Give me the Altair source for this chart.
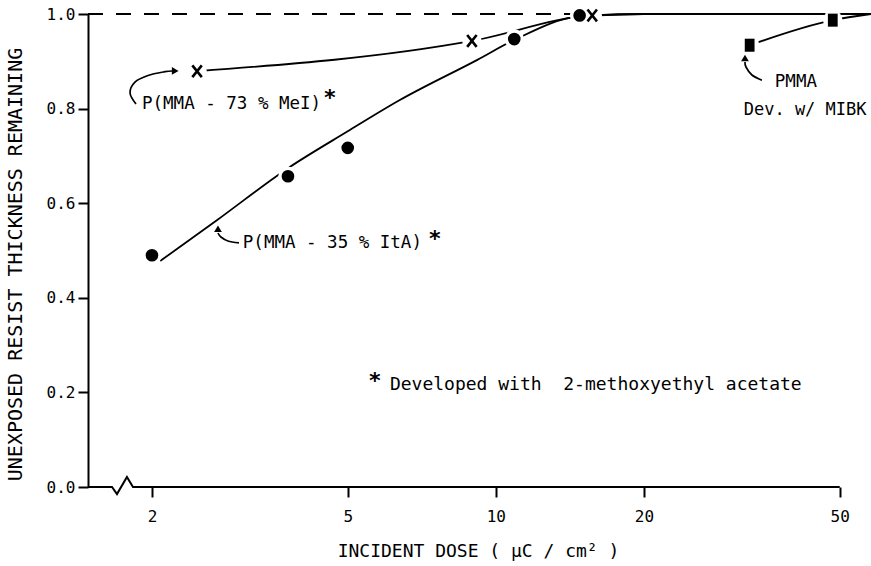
import altair as alt
import pandas as pd

FONT = "DejaVu Sans Mono"
X_MIN, X_MAX = 1.4826, 57.88

# ---- measured points -------------------------------------------------
ita_dose = [2.0, 3.78, 5.0, 10.9, 14.8]
ita_val = [0.49, 0.657, 0.717, 0.947, 0.997]
mei_dose = [2.47, 8.94, 15.7]
mei_val = [0.879, 0.943, 0.997]
pmma_dose = [32.8, 48.4]
pmma_val = [0.934, 0.987]

# ---- trend curves as drawn in the figure ------------------------------
ita_curve_dose = [2.08, 2.71, 3.78, 5.0, 6.38, 9.17, 10.9, 14.8, 20.0]
ita_curve_val = [0.478, 0.564, 0.674, 0.752, 0.818, 0.903, 0.945, 0.995, 1.0]
mei_curve_dose = [2.47, 8.94, 15.7, 20.0, X_MAX]
mei_curve_val = [0.879, 0.943, 0.997, 1.0, 1.0]
pmma_curve_dose = [32.8, 48.4, X_MAX]
pmma_curve_val = [0.934, 0.987, 1.0]

# ---- decorations -----------------------------------------------------
axis_dose = [X_MIN, 1.659, 1.698, 1.779, 1.830, 50.0]
axis_val = [0.0, 0.0, -0.015, 0.021, 0.0, 0.0]
ref_dose = [X_MIN]
ref_dose2 = [14.8]
ref_val = [1.0]

arrow_id = ["a1"] * 6 + ["a2"] * 4 + ["a3"] * 4
arrow_dose = [1.856, 1.805, 1.847, 1.963, 2.125, 2.20,
              3.005, 2.854, 2.762, 2.724,
              34.74, 33.15, 32.24, 32.09]
arrow_val = [0.8097, 0.833, 0.856, 0.870, 0.878, 0.8795,
             0.516, 0.520, 0.5285, 0.537,
             0.860, 0.871, 0.888, 0.8985]
head_dose = [2.23, 2.724, 32.09]
head_val = [0.8795, 0.546, 0.907]
head_shape = ["triangle-right", "triangle-up", "triangle-up"]

label_text = ["P(MMA - 73 % MeI)", "P(MMA - 35 % ItA)", "PMMA", "Dev. w/ MIBK",
              "Developed with\u00a0 2-methoxyethyl acetate"]
label_dose = [1.909, 3.06, 36.9, 31.9, 6.09]
label_val = [0.81, 0.516, 0.856, 0.797, 0.216]
label_size = [17.5, 17.5, 17.5, 17, 18]
star_dose = [4.60, 7.52, 5.68]
star_val = [0.823, 0.525, 0.225]

# ---------------------------------------------------------------------
x_scale = alt.Scale(type="log", domain=[X_MIN, X_MAX], nice=False)
y_scale = alt.Scale(domain=[0, 1], nice=False, zero=False)

xenc = alt.X(
    "dose:Q", scale=x_scale,
    axis=alt.Axis(values=[2, 5, 10, 20, 50], format="d",
                  title="INCIDENT DOSE ( μC / cm² )", domain=False, grid=False,
                  tickSize=10, tickWidth=2, tickColor="black",
                  labelPadding=11, labelFontSize=16, labelFont=FONT, labelColor="black",
                  labelFlush=False, labelOverlap=False,
                  titleFontSize=18, titleFont=FONT, titleFontWeight="normal",
                  titleColor="black", titlePadding=18, titleX=390),
)
yenc = alt.Y(
    "val:Q", scale=y_scale,
    axis=alt.Axis(values=[0, 0.2, 0.4, 0.6, 0.8, 1.0], format=".1f",
                  title="UNEXPOSED RESIST THICKNESS REMAINING", grid=False,
                  domain=True, domainColor="black", domainWidth=2,
                  tickSize=10, tickWidth=2, tickColor="black",
                  labelPadding=3, labelFontSize=16, labelFont=FONT, labelColor="black",
                  labelFlush=False, labelOverlap=False,
                  titleFontSize=20, titleFont=FONT, titleFontWeight="normal",
                  titleColor="black", titlePadding=21, titleY=250),
)

ref = alt.Chart(pd.DataFrame({"dose": ref_dose, "dose2": ref_dose2, "val": ref_val})).mark_rule(
    color="black", strokeWidth=1.8, strokeDash=[15, 13]
).encode(x=xenc, x2="dose2:Q", y=yenc)

baseline = alt.Chart(pd.DataFrame({"dose": axis_dose, "val": axis_val,
                                   "i": list(range(len(axis_dose)))})).mark_line(
    color="black", strokeWidth=2
).encode(x=xenc, y=yenc, order="i:Q")


def curve(d, v, width=1.8):
    return alt.Chart(pd.DataFrame({"dose": d, "val": v, "i": list(range(len(d)))})).mark_line(
        color="black", strokeWidth=width, interpolate="monotone"
    ).encode(x=xenc, y=yenc, order="i:Q")


c_ita = curve(ita_curve_dose, ita_curve_val)
c_mei = curve(mei_curve_dose, mei_curve_val)
c_pmma = curve(pmma_curve_dose, pmma_curve_val)

all_pts = pd.DataFrame({"dose": ita_dose + mei_dose + pmma_dose,
                        "val": ita_val + mei_val + pmma_val})
halo = alt.Chart(all_pts).mark_point(
    shape="circle", filled=True, color="white", opacity=1, size=380
).encode(x=xenc, y=yenc)

circles = alt.Chart(pd.DataFrame({"dose": ita_dose, "val": ita_val})).mark_point(
    shape="circle", filled=True, color="black", opacity=1, size=160
).encode(x=xenc, y=yenc)
crosses = alt.Chart(pd.DataFrame({"dose": mei_dose, "val": mei_val})).mark_point(
    shape="M-0.8,-1L0.8,1M-0.8,1L0.8,-1", filled=False, color="black",
    opacity=1, size=140, strokeWidth=2.6
).encode(x=xenc, y=yenc)
squares = alt.Chart(pd.DataFrame({"dose": pmma_dose, "val": pmma_val})).mark_point(
    shape="M-0.75,-1H0.75V1H-0.75Z", filled=True, color="black", opacity=1, size=170
).encode(x=xenc, y=yenc)

arrows = alt.Chart(pd.DataFrame({"dose": arrow_dose, "val": arrow_val, "id": arrow_id,
                                 "i": list(range(len(arrow_dose)))})).mark_line(
    color="black", strokeWidth=1.7, interpolate="cardinal"
).encode(x=xenc, y=yenc, detail="id:N", order="i:Q")
heads = alt.Chart(pd.DataFrame({"dose": head_dose, "val": head_val, "shape": head_shape})).mark_point(
    filled=True, color="black", opacity=1, size=60
).encode(x=xenc, y=yenc, shape=alt.Shape("shape:N", scale=None))

labels = alt.Chart(pd.DataFrame({"dose": label_dose, "val": label_val, "t": label_text,
                                 "fs": label_size})).mark_text(
    align="left", baseline="middle", font=FONT, color="black"
).encode(x=xenc, y=yenc, text="t:N", size=alt.Size("fs:Q", scale=None))
stars = alt.Chart(pd.DataFrame({"dose": star_dose, "val": star_val, "t": ["*"] * 3})).mark_text(
    align="center", baseline="middle", font=FONT, fontSize=22, fontWeight="bold", color="black"
).encode(x=xenc, y=yenc, text="t:N")

chart = alt.layer(
    ref, baseline, c_ita, c_mei, c_pmma, arrows, halo, circles, crosses, squares, heads,
    labels, stars
).properties(
    width=783, height=473,
    autosize=alt.AutoSizeParams(type="none"),
    padding={"left": 88, "top": 14, "right": 0, "bottom": 79},
    background="white",
).configure_view(stroke=None)

chart.save("out.html", embed_options={"renderer": "svg", "actions": False})
